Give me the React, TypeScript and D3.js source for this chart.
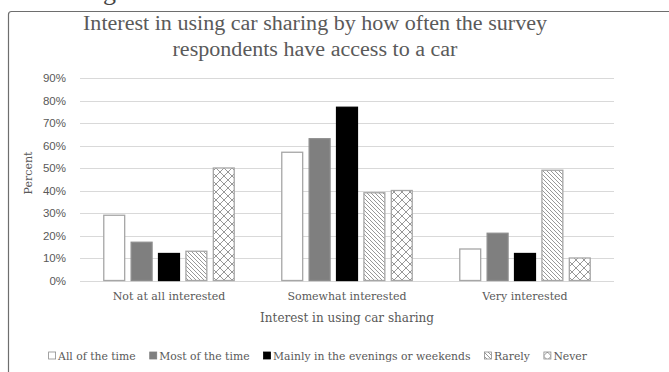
import React, { useEffect, useRef } from "react";
import * as d3 from "d3";

// Interest in car sharing, percent of respondents, by car-access frequency
const categories = ["Not at all interested", "Somewhat interested", "Very interested"];
const seriesNames = [
  "All of the time",
  "Most of the time",
  "Mainly in the evenings or weekends",
  "Rarely",
  "Never",
];
const allOfTheTime = [29, 57, 14];
const mostOfTheTime = [17, 63, 21];
const mainlyEveningsWeekends = [12, 77, 12];
const rarely = [13, 39, 49];
const never = [50, 40, 10];
const yTicks = [0, 10, 20, 30, 40, 50, 60, 70, 80, 90];

const seriesValues = [allOfTheTime, mostOfTheTime, mainlyEveningsWeekends, rarely, never];

const W = 669;
const H = 372;
const TEXT = "#595959";
const TITLE_SERIF = "'Liberation Serif', 'DejaVu Serif', serif";
const SERIF = "'DejaVu Serif', 'Liberation Serif', serif";
const SANS = "'Liberation Sans', Arial, sans-serif";

export default function App() {
  const ref = useRef<SVGSVGElement | null>(null);

  useEffect(() => {
    const svg = d3.select(ref.current);
    svg.selectAll("*").remove();

    const defs = svg.append("defs");
    const diag = defs
      .append("pattern")
      .attr("id", "pat-rarely")
      .attr("patternUnits", "userSpaceOnUse")
      .attr("width", 4)
      .attr("height", 4);
    diag.append("rect").attr("width", 4).attr("height", 4).attr("fill", "#fff");
    diag
      .append("path")
      .attr("d", "M-1,-1 L5,5 M-1,3 L1,5 M3,-1 L5,1")
      .attr("stroke", "#8c8c8c")
      .attr("stroke-width", 0.9);

    const cross = defs
      .append("pattern")
      .attr("id", "pat-never")
      .attr("patternUnits", "userSpaceOnUse")
      .attr("width", 8)
      .attr("height", 8);
    cross.append("rect").attr("width", 8).attr("height", 8).attr("fill", "#fff");
    cross
      .append("path")
      .attr("d", "M0,0 L8,8 M8,0 L0,8")
      .attr("stroke", "#8c8c8c")
      .attr("stroke-width", 0.9);

    const fills = ["#ffffff", "#7f7f7f", "#000000", "url(#pat-rarely)", "url(#pat-never)"];
    const strokes = ["#a6a6a6", "#8c8c8c", "#000000", "#a6a6a6", "#a6a6a6"];

    // descender of the line of text above the chart
    svg
      .append("text")
      .attr("x", 103)
      .attr("y", 0)
      .attr("font-family", TITLE_SERIF)
      .attr("font-size", 26)
      .attr("fill", "#444")
      .text("g");

    // chart frame
    svg
      .append("rect")
      .attr("x", 8.5)
      .attr("y", 11.5)
      .attr("width", 700)
      .attr("height", 400)
      .attr("rx", 3)
      .attr("fill", "#fff")
      .attr("stroke", "#6e6e6e")
      .attr("stroke-width", 1.2);

    // title, stretched a little to the chart's title width
    const titleLines = [
      "Interest in using car sharing by how often the survey",
      "respondents have access to a car",
    ];
    const titleNodes = titleLines.map((line, i) =>
      svg
        .append("text")
        .attr("x", 315)
        .attr("y", 30 + i * 26)
        .attr("text-anchor", "middle")
        .attr("font-family", TITLE_SERIF)
        .attr("font-size", 20)
        .attr("fill", "#5a5a5a")
        .text(line)
    );
    const firstW = (titleNodes[0].node() as SVGTextElement).getComputedTextLength();
    const stretch = 464 / firstW;
    titleNodes.forEach((t) => {
      const w = (t.node() as SVGTextElement).getComputedTextLength();
      t.attr("textLength", w * stretch).attr("lengthAdjust", "spacingAndGlyphs");
    });

    const left = 80;
    const right = 614;
    const y = d3.scaleLinear().domain([0, 90]).range([280.5, 78]);
    const x0 = d3.scaleBand<string>().domain(categories).range([left, right]).padding(0);
    const x1 = d3
      .scaleBand<number>()
      .domain(d3.range(seriesNames.length))
      .range([0, x0.bandwidth()])
      .paddingInner(0.2)
      .paddingOuter(0.85);

    // gridlines
    svg
      .append("g")
      .selectAll("line")
      .data(yTicks)
      .join("line")
      .attr("x1", left)
      .attr("x2", right)
      .attr("y1", (d) => Math.round(y(d)) + 0.5)
      .attr("y2", (d) => Math.round(y(d)) + 0.5)
      .attr("stroke", "#d9d9d9")
      .attr("stroke-width", 1);

    // y tick labels
    svg
      .append("g")
      .selectAll("text")
      .data(yTicks)
      .join("text")
      .attr("x", 66)
      .attr("y", (d) => y(d))
      .attr("dy", "0.35em")
      .attr("text-anchor", "end")
      .attr("font-family", SANS)
      .attr("font-size", 11.5)
      .attr("fill", TEXT)
      .text((d) => `${d}%`);

    // bars
    const groups = svg
      .append("g")
      .selectAll("g")
      .data(categories)
      .join("g")
      .attr("transform", (d) => `translate(${x0(d)},0)`);

    groups
      .selectAll("rect")
      .data((_, ci) => seriesValues.map((vals, si) => ({ si, v: vals[ci] })))
      .join("rect")
      .attr("x", (d) => (x1(d.si) as number) + 0.5)
      .attr("width", x1.bandwidth() - 1)
      .attr("y", (d) => y(d.v))
      .attr("height", (d) => y(0) - y(d.v))
      .attr("fill", (d) => fills[d.si])
      .attr("stroke", (d) => strokes[d.si])
      .attr("stroke-width", 1.3);

    // category labels
    svg
      .append("g")
      .selectAll("text")
      .data(categories)
      .join("text")
      .attr("x", (d) => (x0(d) as number) + x0.bandwidth() / 2)
      .attr("y", 300)
      .attr("text-anchor", "middle")
      .attr("font-family", SERIF)
      .attr("font-size", 11)
      .attr("fill", TEXT)
      .text((d) => d);

    // axis titles
    svg
      .append("text")
      .attr("x", (left + right) / 2)
      .attr("y", 322)
      .attr("text-anchor", "middle")
      .attr("font-family", SERIF)
      .attr("font-size", 12)
      .attr("fill", TEXT)
      .text("Interest in using car sharing");

    svg
      .append("text")
      .attr("transform", `translate(32,173) rotate(-90)`)
      .attr("text-anchor", "middle")
      .attr("font-family", SERIF)
      .attr("font-size", 11)
      .attr("fill", TEXT)
      .text("Percent");

    // legend
    const legend = svg.append("g");
    let cx = 0;
    seriesNames.forEach((name, i) => {
      const item = legend.append("g").attr("transform", `translate(${cx},0)`);
      item
        .append("rect")
        .attr("x", 0.5)
        .attr("y", -4)
        .attr("width", 7)
        .attr("height", 7)
        .attr("fill", fills[i])
        .attr("stroke", i === 0 || i >= 3 ? "#8c8c8c" : fills[i])
        .attr("stroke-width", 0.8);
      const t = item
        .append("text")
        .attr("x", 10)
        .attr("y", 0)
        .attr("dy", "0.35em")
        .attr("font-family", SERIF)
        .attr("font-size", 10.8)
        .attr("fill", TEXT)
        .text(name);
      const tw = (t.node() as SVGTextElement).getComputedTextLength();
      cx += 10 + tw + 13.5;
    });
    const total = cx - 13.5;
    legend.attr("transform", `translate(${317.5 - total / 2},356)`);
  }, []);

  return (
    <svg
      ref={ref}
      width={W}
      height={H}
      style={{ position: "absolute", left: 0, top: 0, background: "#fff" }}
    />
  );
}
